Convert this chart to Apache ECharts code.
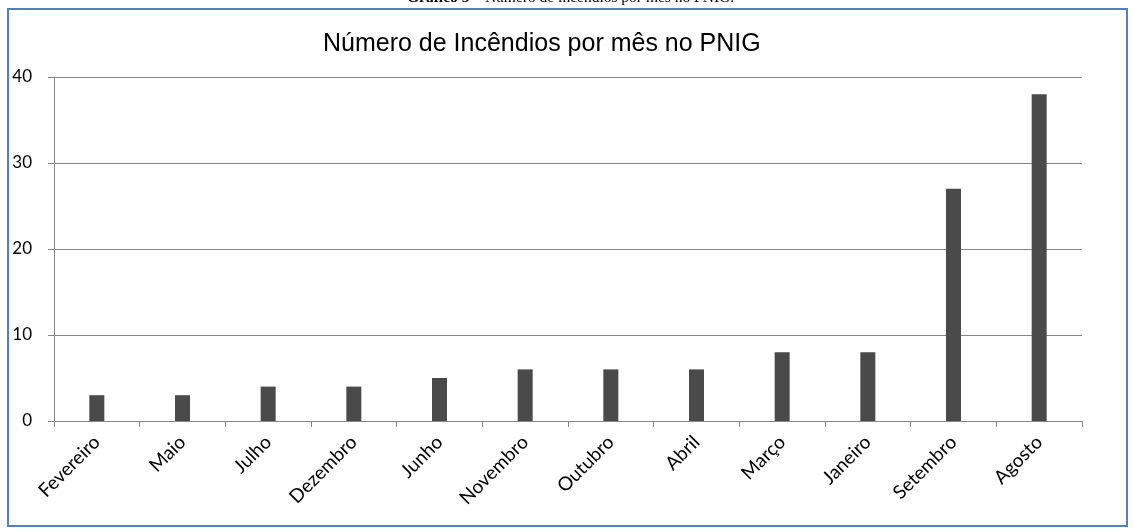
<!DOCTYPE html>
<html>
<head>
<meta charset="utf-8">
<style>
  html, body { margin: 0; padding: 0; background: #fff; }
  #chart { width: 1133px; height: 530px; }
</style>
<script src="https://cdn.jsdelivr.net/npm/echarts@6/dist/echarts.min.js"></script>
</head>
<body>
<div id="chart"></div>
<script>
const captionBold = 'Gráfico 5';
const captionRest = ' – Número de incêndios por mês no PNIG.';
const chartTitle = 'Número de Incêndios por mês no PNIG';
const months = ['Fevereiro', 'Maio', 'Julho', 'Dezembro', 'Junho', 'Novembro', 'Outubro', 'Abril', 'Março', 'Janeiro', 'Setembro', 'Agosto'];
const fires = [3, 3, 4, 4, 5, 6, 6, 6, 8, 8, 27, 38];

const chart = echarts.init(document.getElementById('chart'), null, { renderer: 'canvas' });
chart.setOption({
  animation: false,
  backgroundColor: '#ffffff',
  title: {
    text: chartTitle,
    left: 318,
    top: 27,
    textStyle: { fontFamily: 'Liberation Sans', fontSize: 25, fontWeight: 'normal', color: '#000' }
  },
  graphic: [
    {
      type: 'rect',
      shape: { x: 8, y: 9, width: 1119, height: 517 },
      style: { fill: 'none', stroke: '#4f81bd', lineWidth: 2 },
      z: 0
    },
    {
      type: 'text',
      left: 407,
      top: -10,
      style: {
        text: '{b|' + captionBold + '}{r|' + captionRest + '}',
        rich: {
          b: { fontFamily: 'Liberation Serif', fontSize: 15.5, fontWeight: 'bold', fill: '#000' },
          r: { fontFamily: 'Liberation Serif', fontSize: 15.5, fill: '#000' }
        }
      }
    }
  ],
  grid: { left: 54, right: 51, top: 77, bottom: 109, containLabel: false },
  xAxis: {
    type: 'category',
    data: months,
    boundaryGap: true,
    axisLine: { show: true, lineStyle: { color: '#868686', width: 1 } },
    axisTick: { show: true, alignWithLabel: false, length: 6, lineStyle: { color: '#868686' } },
    axisLabel: {
      interval: 0,
      rotate: 45,
      margin: 18,
      fontFamily: 'Lato',
      fontSize: 19,
      color: '#000'
    }
  },
  yAxis: {
    type: 'value',
    min: 0,
    max: 40,
    interval: 10,
    axisLine: { show: true, lineStyle: { color: '#868686', width: 1 } },
    axisTick: { show: true, length: 6, lineStyle: { color: '#868686' } },
    splitLine: { show: true, lineStyle: { color: '#868686', width: 1 } },
    axisLabel: { fontFamily: 'Lato', fontSize: 17, color: '#000', margin: 22 }
  },
  series: [{
    type: 'bar',
    data: fires,
    barWidth: 15,
    itemStyle: { color: '#4a4a4a' }
  }]
});
</script>
</body>
</html>
